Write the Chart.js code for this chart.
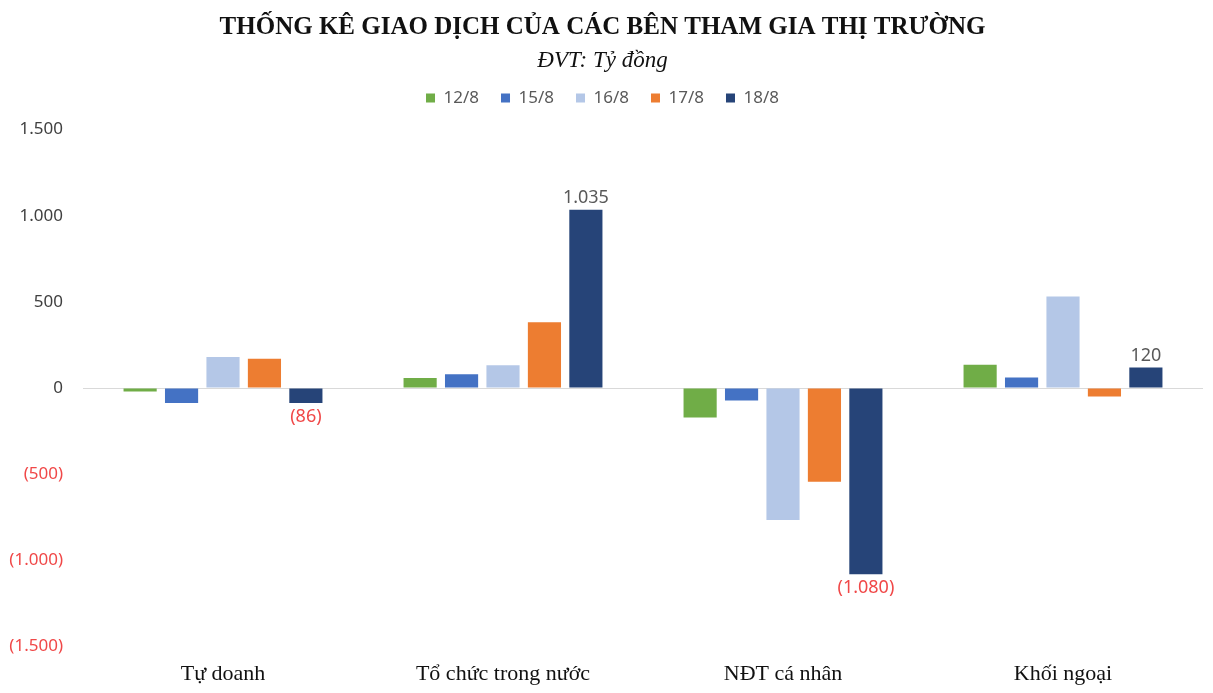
<!DOCTYPE html>
<html>
<head>
<meta charset="utf-8">
<script src="https://cdn.jsdelivr.net/npm/chart.js@4"></script>
<style>
  body { margin: 0; background: #fff; }
  #wrap { width: 1213px; height: 693px; position: relative; }
</style>
</head>
<body>
<div id="wrap"><canvas id="chart1"></canvas></div>
<script>
// data
const categories = ["Tự doanh", "Tổ chức trong nước", "NĐT cá nhân", "Khối ngoại"];
const seriesNames = ["12/8", "15/8", "16/8", "17/8", "18/8"];
const v12 = [-20, 58, -170, 136];
const v15 = [-87, 80, -72, 62];
const v16 = [180, 133, -765, 531];
const v17 = [170, 382, -543, -49];
const v18 = [-86, 1035, -1080, 120];
const seriesColors = ["#70ad47", "#4472c4", "#b4c7e7", "#ed7d31", "#264478"];
const allValues = [v12, v15, v16, v17, v18];

const red = "#f04848";
const gray = "#595959";

function fmt(v) {
    const s = Math.abs(v).toString().replace(/\B(?=(\d{3})+(?!\d))/g, ".");
    return v < 0 ? "(" + s + ")" : s;
}

// labels on the last series only
const barLabels = {
    id: "barLabels",
    afterDatasetsDraw(chart) {
        const ctx = chart.ctx;
        const i = chart.data.datasets.length - 1;
        const vals = chart.data.datasets[i].data;
        ctx.save();
        ctx.font = "18px 'Noto Sans'";
        ctx.textAlign = "center";
        chart.getDatasetMeta(i).data.forEach(function (bar, j) {
            const v = vals[j];
            ctx.fillStyle = v < 0 ? red : gray;
            if (v < 0) {
                ctx.textBaseline = "top";
                ctx.fillText(fmt(v), bar.x, bar.y + 5);
            } else {
                ctx.textBaseline = "bottom";
                ctx.fillText(fmt(v), bar.x, bar.y - 3);
            }
        });
        ctx.restore();
    }
};

// empty gap between legend and plot
const spacer = {
    id: "spacer",
    beforeInit(chart) {
        Chart.layouts.addBox(chart, {
            position: "top",
            weight: 500,
            fullSize: true,
            options: {},
            width: 0,
            height: 0,
            update(maxWidth) { this.width = maxWidth; this.height = 13; },
            isHorizontal() { return true; },
            draw() {}
        });
    }
};

new Chart(document.getElementById("chart1"), {
    type: "bar",
    data: {
        labels: categories,
        datasets: seriesNames.map(function (name, k) {
            return {
                label: name,
                data: allValues[k],
                backgroundColor: seriesColors[k],
                categoryPercentage: 0.74,
                barPercentage: 0.8
            };
        })
    },
    options: {
        responsive: true,
        maintainAspectRatio: false,
        animation: false,
        layout: { padding: { left: 2, right: 10, top: 0, bottom: 0 } },
        plugins: {
            title: {
                display: true,
                text: "THỐNG KÊ GIAO DỊCH CỦA CÁC BÊN THAM GIA THỊ TRƯỜNG",
                color: "#111",
                font: { family: "'Liberation Serif'", size: 25, weight: "bold" },
                padding: { top: 13, bottom: 4 }
            },
            subtitle: {
                display: true,
                text: "ĐVT: Tỷ đồng",
                color: "#111",
                font: { family: "'Liberation Serif'", size: 23, style: "italic" },
                padding: { top: 0, bottom: -7 }
            },
            legend: {
                position: "top",
                labels: {
                    boxWidth: 9,
                    boxHeight: 9,
                    padding: 22,
                    color: gray,
                    font: { family: "'Noto Sans'", size: 17 }
                }
            },
            tooltip: { enabled: false }
        },
        scales: {
            x: {
                grid: { display: false },
                border: { display: false },
                ticks: {
                    color: "#111",
                    padding: 6,
                    font: { family: "'Liberation Serif'", size: 22 }
                }
            },
            y: {
                min: -1500,
                max: 1500,
                border: { display: false },
                afterFit: function (scale) { scale.width = 81; },
                grid: {
                    drawTicks: false,
                    color: function (c) { return c.tick.value === 0 ? "#d9d9d9" : "rgba(0,0,0,0)"; }
                },
                ticks: {
                    stepSize: 500,
                    padding: 20,
                    font: { family: "'Noto Sans'", size: 17 },
                    color: function (c) { return c.tick.value < 0 ? red : "#404040"; },
                    callback: function (v) { return fmt(v); }
                }
            }
        }
    },
    plugins: [barLabels, spacer]
});
</script>
</body>
</html>
